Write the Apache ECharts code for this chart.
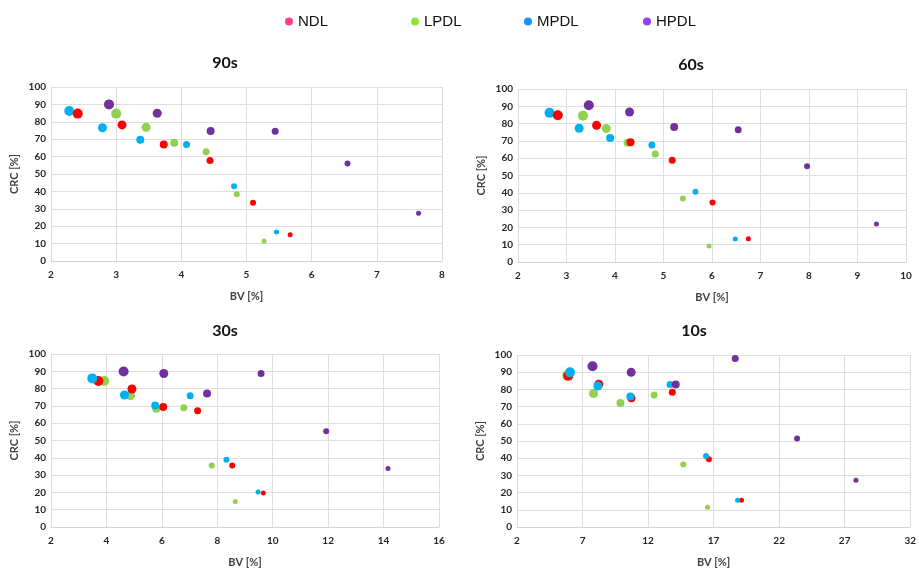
<!DOCTYPE html>
<html>
<head>
<meta charset="utf-8">
<script src="https://cdn.jsdelivr.net/npm/echarts@6/dist/echarts.min.js"></script>
<style>
  html, body { margin: 0; padding: 0; background: #fff; }
  #chart { width: 919px; height: 569px; }
</style>
</head>
<body>
<div id="chart"></div>
<script>
// Scan durations shown in the four panels
const panelTitles = ['90s', '60s', '30s', '10s'];
const seriesNames = ['NDL', 'LPDL', 'MPDL', 'HPDL'];

// [BV %, CRC %] per series and scan duration
const ndl90  = [[2.41, 84.7], [3.09, 78.2], [3.73, 66.9], [4.44, 57.7], [5.10, 33.5], [5.67, 15.1]];
const lpdl90 = [[3.00, 84.7], [3.46, 76.8], [3.89, 68.0], [4.38, 62.8], [4.85, 38.3], [5.27, 11.5]];
const mpdl90 = [[2.28, 86.2], [2.79, 76.6], [3.37, 69.7], [4.08, 66.9], [4.81, 42.9], [5.46, 16.7]];
const hpdl90 = [[2.89, 90.0], [3.63, 84.9], [4.45, 74.7], [5.44, 74.5], [6.55, 56.1], [7.64, 27.4]];

const ndl60  = [[2.82, 84.8], [3.62, 79.0], [4.32, 69.2], [5.18, 58.8], [6.01, 34.4], [6.75, 13.5]];
const lpdl60 = [[3.34, 84.6], [3.82, 77.1], [4.26, 69.0], [4.83, 62.5], [5.40, 36.7], [5.94, 9.2]];
const mpdl60 = [[2.65, 86.2], [3.26, 77.3], [3.90, 71.7], [4.76, 67.7], [5.66, 40.6], [6.48, 13.3]];
const hpdl60 = [[3.46, 90.6], [4.30, 86.7], [5.22, 78.1], [6.54, 76.5], [7.96, 55.4], [9.39, 21.9]];

const ndl30  = [[3.71, 84.4], [4.92, 79.8], [6.05, 69.3], [7.29, 67.2], [8.54, 35.5], [9.66, 19.7]];
const lpdl30 = [[3.92, 84.4], [4.87, 76.0], [5.80, 68.3], [6.79, 68.9], [7.80, 35.5], [8.65, 14.7]];
const mpdl30 = [[3.49, 85.9], [4.65, 76.3], [5.76, 70.2], [7.02, 75.9], [8.33, 38.9], [9.47, 20.2]];
const hpdl30 = [[4.62, 89.9], [6.07, 88.7], [7.63, 77.1], [9.58, 88.7], [11.93, 55.3], [14.16, 33.8]];

const ndl10  = [[5.91, 88.0], [8.24, 83.0], [10.73, 74.8], [13.85, 78.4], [16.64, 39.4], [19.13, 15.5]];
const lpdl10 = [[5.83, 88.0], [7.84, 77.6], [9.89, 72.1], [12.46, 76.7], [14.69, 36.3], [16.54, 11.5]];
const mpdl10 = [[6.04, 89.9], [8.17, 82.0], [10.65, 75.9], [13.68, 82.8], [16.42, 41.3], [18.83, 15.5]];
const hpdl10 = [[7.76, 93.5], [10.71, 89.9], [14.11, 82.8], [18.65, 97.9], [23.37, 51.4], [27.86, 27.2]];

// X axis ranges and tick steps per panel
const xMins = [2, 2, 2, 2];
const xMaxs = [8, 10, 16, 32];
const xSteps = [1, 1, 2, 5];

const panelData = [
  [ndl90, lpdl90, mpdl90, hpdl90],
  [ndl60, lpdl60, mpdl60, hpdl60],
  [ndl30, lpdl30, mpdl30, hpdl30],
  [ndl10, lpdl10, mpdl10, hpdl10]
];

// ---- styling ----
const markerColors = ['#ff0000', '#92d050', '#00b0f0', '#7030a0'];
const legendColors = ['#ff3f8e', '#8fe533', '#1a8fff', '#9343e8'];
const legendLefts = [285, 411, 524, 643];
const sizeByRank = [10, 9, 8, 7, 6, 5];
// stacking order of the series within each panel (higher draws on top)
const drawOrder = [
  [3, 1, 2, 4],
  [3, 1, 2, 4],
  [2, 1, 3, 4],
  [2, 1, 3, 4]
];

const grids = [
  { left: 51, right: 477, top: 87, bottom: 308 },
  { left: 518, right: 13, top: 89, bottom: 307 },
  { left: 51, right: 480, top: 354, bottom: 40 },
  { left: 517, right: 8, top: 355, bottom: 40 }
];
const titleCenters = [[225, 64], [691, 66], [225, 332], [694, 332]];

const FONT = 'Lato, "Open Sans", sans-serif';
const gridLine = { show: true, lineStyle: { color: '#dedede', width: 1 } };
const tickLabel = { fontFamily: FONT, fontSize: 10, fontWeight: 'bold', color: '#262626' };
const axisName = { fontFamily: FONT, fontSize: 11, fontWeight: 'bold', color: '#404040' };

const option = {
  animation: false,
  backgroundColor: '#ffffff',
  title: panelTitles.map((t, i) => ({
    text: t,
    left: titleCenters[i][0],
    top: titleCenters[i][1] - 9,
    textAlign: 'center',
    padding: 0,
    textStyle: { fontFamily: FONT, fontSize: 16, fontWeight: 'bold', color: '#111' }
  })),
  legend: seriesNames.map((n, i) => ({
    left: legendLefts[i],
    top: 14,
    padding: 0,
    icon: 'circle',
    itemWidth: 8,
    itemHeight: 8,
    textStyle: { fontFamily: '"Liberation Sans", Arial, sans-serif', fontSize: 15, color: '#111' },
    data: [{ name: n, itemStyle: { color: legendColors[i] } }]
  })),
  grid: grids,
  xAxis: grids.map((g, i) => ({
    gridIndex: i,
    type: 'value',
    min: xMins[i],
    max: xMaxs[i],
    interval: xSteps[i],
    name: 'BV [%]',
    nameLocation: 'middle',
    nameGap: 30,
    nameTextStyle: axisName,
    axisLine: { show: true, lineStyle: { color: '#d4d4d4' } },
    axisTick: { show: false },
    axisLabel: Object.assign({ margin: 9 }, tickLabel),
    splitLine: gridLine
  })),
  yAxis: grids.map((g, i) => ({
    gridIndex: i,
    type: 'value',
    min: 0,
    max: 100,
    interval: 10,
    name: 'CRC [%]',
    nameLocation: 'middle',
    nameGap: 31,
    nameTextStyle: axisName,
    axisLine: { show: false },
    axisTick: { show: false },
    axisLabel: Object.assign({ margin: 5 }, tickLabel),
    splitLine: gridLine
  })),
  series: []
};

panelData.forEach((group, p) => {
  group.forEach((pts, s) => {
    option.series.push({
      name: seriesNames[s],
      type: 'scatter',
      xAxisIndex: p,
      yAxisIndex: p,
      z: 2 + drawOrder[p][s],
      data: pts,
      symbolSize: (val, params) => sizeByRank[params.dataIndex],
      itemStyle: { color: markerColors[s], opacity: 1 },
      emphasis: { disabled: true }
    });
  });
});

const chart = echarts.init(document.getElementById('chart'), null, { renderer: 'canvas' });
chart.setOption(option);
</script>
</body>
</html>
